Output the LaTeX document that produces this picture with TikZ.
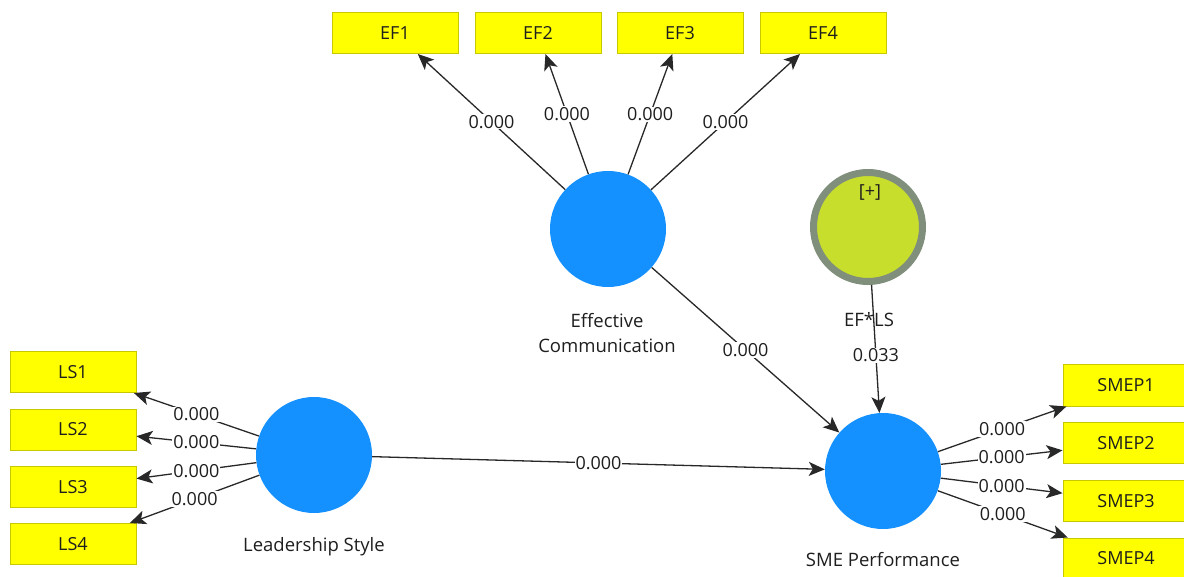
\documentclass[tikz,border=0pt]{standalone}
\usepackage{fontspec}
\setmainfont{Open Sans}
\usetikzlibrary{arrows.meta}
\definecolor{lvblue}{RGB}{20,144,255}
\definecolor{boxyellow}{RGB}{255,255,0}
\definecolor{boxborder}{RGB}{200,200,0}
\definecolor{intfill}{RGB}{200,222,44}
\definecolor{intborder}{RGB}{128,142,124}
\definecolor{linegray}{RGB}{40,40,40}
\definecolor{txt}{RGB}{30,30,30}
\begin{document}
\begin{tikzpicture}[x=1pt,y=-1pt,
  ind/.style={draw=boxborder, fill=boxyellow, minimum width=126pt, minimum height=41pt, inner sep=0pt, line width=1pt, font=\fontsize{18}{21}\selectfont, text=txt},
  lv/.style={circle, fill=lvblue, minimum size=116pt, inner sep=0pt},
  intlv/.style={circle, fill=intfill, draw=intborder, line width=7pt, minimum size=109pt, inner sep=0pt},
  conn/.style={draw=linegray, line width=1.3pt, -{Stealth[length=16pt,width=14pt,inset=4pt]}},
  lbl/.style={fill=white, inner sep=1pt, font=\fontsize{18}{20}\selectfont, text=txt},
  lvname/.style={font=\fontsize{18.5}{25}\selectfont, text=txt, align=center}
]
\path[use as bounding box] (0,0) rectangle (1184,577);
\clip (0,0) rectangle (1184,577);
% indicators
\node[ind] (ef1) at (395,33) {EF1};
\node[ind] (ef2) at (538,33) {EF2};
\node[ind] (ef3) at (680,33) {EF3};
\node[ind] (ef4) at (823,33) {EF4};
\node[ind] (ls1) at (73,372) {LS1};
\node[ind] (ls2) at (73,429.5) {LS2};
\node[ind] (ls3) at (73,487) {LS3};
\node[ind] (ls4) at (73,544) {LS4};
\node[ind] (sp1) at (1126,385.5) {SMEP1};
\node[ind] (sp2) at (1126,443) {SMEP2};
\node[ind] (sp3) at (1126,501) {SMEP3};
\node[ind] (sp4) at (1126,558.5) {SMEP4};
% latent variables
\node[lv] (ec) at (608,229) {};
\node[lv] (ls) at (314,455) {};
\node[lv] (sme) at (883,471) {};
\node[intlv] (int) at (868,227) {};
\node[font=\fontsize{18}{20}\selectfont, text=txt] (plus) at (870,193) {[+]};
% names
\node[lvname] (ecname) at (607,333) {Effective\\Communication};
\node[lvname] (lsname) at (314,547) {Leadership Style};
\node[lvname] (smename) at (883,560) {SME Performance};
% connectors
\draw[conn] (ec) -- node[lbl,pos=0.5]{0.000} (ef1);
\draw[conn] (ec) -- node[lbl,pos=0.5]{0.000} (ef2);
\draw[conn] (ec) -- node[lbl,pos=0.5]{0.000} (ef3);
\draw[conn] (ec) -- node[lbl,pos=0.5]{0.000} (ef4);
\draw[conn] (ls) -- node[lbl,pos=0.5]{0.000} (ls1);
\draw[conn] (ls) -- node[lbl,pos=0.5]{0.000} (ls2);
\draw[conn] (ls) -- node[lbl,pos=0.5]{0.000} (ls3);
\draw[conn] (ls) -- node[lbl,pos=0.5]{0.000} (ls4);
\draw[conn] (sme) -- node[lbl,pos=0.5]{0.000} (sp1);
\draw[conn] (sme) -- node[lbl,pos=0.5]{0.000} (sp2);
\draw[conn] (sme) -- node[lbl,pos=0.5]{0.000} (sp3);
\draw[conn] (sme) -- node[lbl,pos=0.5]{0.000} (sp4);
\draw[conn] (ec) -- node[lbl,pos=0.5]{0.000} (sme);
\draw[conn] (ls) -- node[lbl,pos=0.5]{0.000} (sme);
\draw[conn] (int) -- node[lbl,pos=0.55]{0.033} (sme);
\node[lvname] (intname) at (869,320) {EF*LS};
\end{tikzpicture}
\end{document}
